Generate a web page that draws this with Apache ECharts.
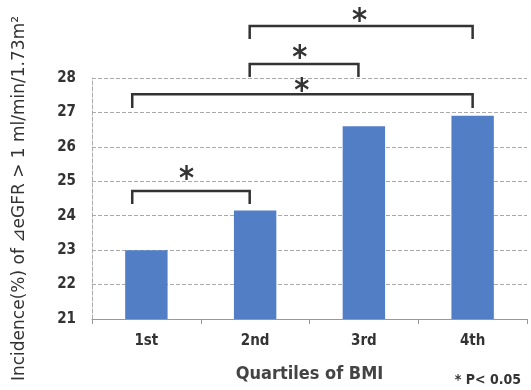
<!DOCTYPE html>
<html><head><meta charset="utf-8">
<script src="https://cdn.jsdelivr.net/npm/echarts@6/dist/echarts.min.js"></script>
<style>html,body{margin:0;padding:0;background:#fff}#c{width:531px;height:390px}</style>
</head><body><div id="c"></div>
<script>
var categories = ['1st', '2nd', '3rd', '4th'];
var incidence = [23.0, 24.15, 26.6, 26.9];
var yTicks = [21, 22, 23, 24, 25, 26, 27, 28];
// brackets: [xStart, xEnd, yBar, yLegEnd] on a 0..4 category-position scale
var brackets = [
  [0.37, 1.45, 24.72, 24.34],
  [0.37, 3.50, 27.53, 27.13],
  [1.45, 2.45, 28.41, 28.03],
  [1.45, 3.50, 29.51, 29.13]
];
// asterisk positions [x, y]
var stars = [
  [0.87, 25.24],
  [1.93, 27.80],
  [1.91, 28.75],
  [2.46, 29.83]
];

var chart = echarts.init(document.getElementById('c'), null, {renderer: 'canvas'});
var FONT = '"DejaVu Sans Condensed", "DejaVu Sans", sans-serif';
chart.setOption({
  animation: false,
  grid: {left: 92, right: 4, top: 78, bottom: 71},
  xAxis: [{
    type: 'category', data: categories,
    axisLine: {lineStyle: {color: '#999', width: 1}},
    axisTick: {show: true, length: 5, lineStyle: {color: '#999'}},
    axisLabel: {color: '#333', fontSize: 15, fontWeight: 'bold', fontFamily: FONT, margin: 15},
    name: 'Quartiles of BMI', nameLocation: 'middle', nameGap: 46,
    nameTextStyle: {color: '#444', fontSize: 18, fontWeight: 'bold', fontFamily: FONT}
  }, {
    type: 'value', min: 0, max: 4, show: false
  }],
  yAxis: [{
    type: 'value', min: yTicks[0], max: yTicks[yTicks.length - 1], interval: 1,
    axisLine: {show: true, lineStyle: {color: '#aaa', type: 'dashed', width: 1}},
    axisTick: {show: false},
    splitLine: {lineStyle: {color: '#aaa', type: 'dashed', width: 1}},
    axisLabel: {color: '#333', fontSize: 15, fontWeight: 'bold', fontFamily: FONT, margin: 16},
    name: 'Incidence(%) of \u22BFeGFR > 1 ml/min/1.73m\u00B2', nameLocation: 'middle', nameGap: 64,
    nameRotate: 90,
    nameTextStyle: {color: '#333', fontSize: 17, fontFamily: '"DejaVu Sans", sans-serif'}
  }],
  series: [{
    type: 'bar', data: incidence, barWidth: '39%',
    itemStyle: {color: '#527ec6'}
  }, {
    type: 'custom', xAxisIndex: 1, yAxisIndex: 0, clip: false, z: 10,
    data: brackets,
    renderItem: function (params, api) {
      var a = api.coord([api.value(0), api.value(2)]);
      var b = api.coord([api.value(1), api.value(2)]);
      var a2 = api.coord([api.value(0), api.value(3)]);
      var b2 = api.coord([api.value(1), api.value(3)]);
      return {
        type: 'polyline',
        shape: {points: [a2, a, b, b2]},
        style: {stroke: '#333', lineWidth: 2.5, fill: null}
      };
    }
  }, {
    type: 'custom', xAxisIndex: 1, yAxisIndex: 0, clip: false, z: 10,
    data: stars,
    renderItem: function (params, api) {
      var p = api.coord([api.value(0), api.value(1)]);
      return {
        type: 'text',
        x: p[0], y: p[1] - 9,
        style: {text: '*', fill: '#333', fontSize: 32, fontWeight: 'bold', fontFamily: FONT,
                align: 'center', verticalAlign: 'top'}
      };
    }
  }],
  graphic: [{
    type: 'text', right: 10, top: 373,
    style: {text: '* P< 0.05', fill: '#333', fontSize: 14, fontWeight: 'bold', fontFamily: FONT}
  }]
});
</script></body></html>
